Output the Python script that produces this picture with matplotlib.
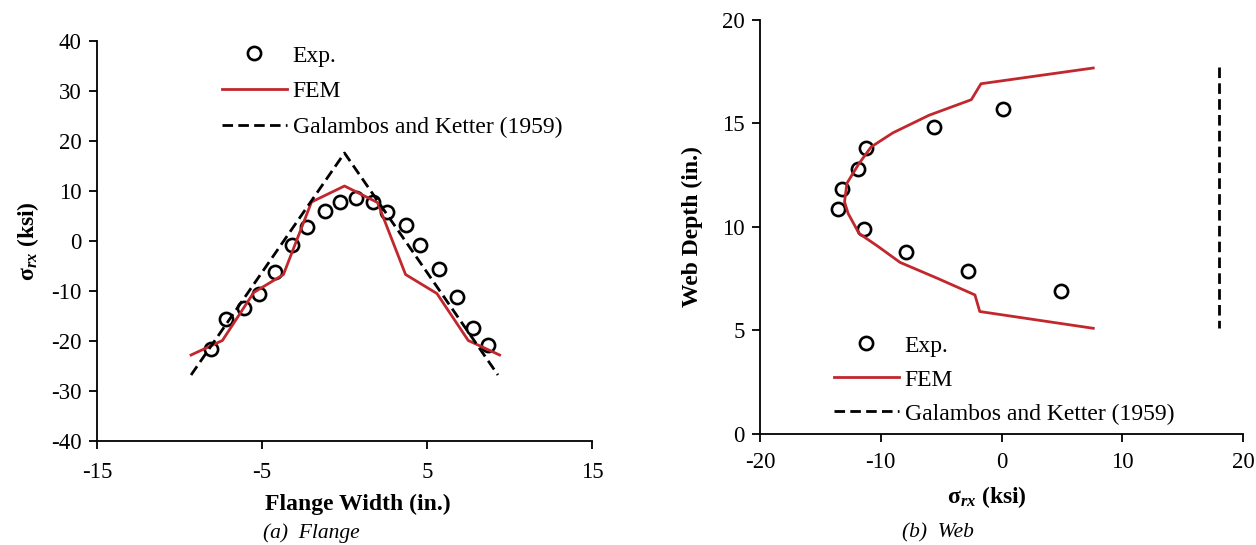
import matplotlib
matplotlib.use("Agg")
import matplotlib.pyplot as plt

plt.rcParams['font.family'] = ['Liberation Serif', 'DejaVu Serif']
plt.rcParams['mathtext.fontset'] = 'custom'
plt.rcParams['mathtext.rm'] = 'Liberation Serif'
plt.rcParams['mathtext.it'] = 'Liberation Serif:italic:bold'
plt.rcParams['mathtext.bf'] = 'Liberation Serif:bold'
plt.rcParams['axes.unicode_minus'] = False

# ---- Flange data ----
flange_exp_x = [-8.1, -7.2, -6.1, -5.2, -4.2, -3.2, -2.3, -1.2, -0.3, 0.7, 1.7, 2.6, 3.7, 4.6, 5.7, 6.8, 7.8, 8.7]
flange_exp_y = [-21.5, -15.5, -13.3, -10.5, -6.1, -0.7, 2.9, 6.0, 7.8, 8.7, 7.9, 5.9, 3.3, -0.7, -5.5, -11.1, -17.3, -20.8]
flange_fem_x = [-9.3, -7.4, -5.5, -3.7, -2.0, 0.0, 2.0, 3.7, 5.6, 7.5, 9.4]
flange_fem_y = [-22.8, -19.9, -10.3, -6.7, 7.8, 11.0, 7.7, -6.7, -10.5, -19.9, -22.8]
flange_gk_x = [-9.3, 0.0, 9.3]
flange_gk_y = [-26.8, 17.6, -26.8]

# ---- Web data ----
web_exp_x = [0.1, -5.6, -11.2, -11.9, -13.2, -13.5, -11.4, -7.9, -2.8, 4.9]
web_exp_y = [15.7, 14.8, 13.8, 12.8, 11.8, 10.85, 9.9, 8.8, 7.85, 6.9]
web_fem_x = [7.6, -1.7, -2.5, -6.0, -9.0, -10.8, -11.8, -12.8, -13.0, -12.7, -11.8, -10.2, -8.4, -5.3, -2.2, -1.8, 7.6]
web_fem_y = [17.66, 16.9, 16.13, 15.38, 14.53, 13.85, 13.05, 12.1, 11.2, 10.64, 9.68, 9.04, 8.28, 7.51, 6.71, 5.91, 5.1]
web_gk_x = [18.0, 18.0]
web_gk_y = [17.7, 5.1]

legend_labels = ["Exp.", "FEM", "Galambos and Ketter (1959)"]

RED = '#C1272D'
W, H = 1256, 545
fig = plt.figure(figsize=(W / 100, H / 100), dpi=100)

def ax_rect(x0, y0, x1, y1):
    return [x0 / W, 1 - y1 / H, (x1 - x0) / W, (y1 - y0) / H]

def fx(px):
    return px / W

def fy(py):
    return 1 - py / H

ax1 = fig.add_axes(ax_rect(97, 41, 592, 441))
ax2 = fig.add_axes(ax_rect(760, 19.5, 1243, 434))

FS = 17
LW = 2.0
dash = (0, (3.8, 1.9))
for ax in (ax1, ax2):
    for s in ('top', 'right'):
        ax.spines[s].set_visible(False)
    for s in ('left', 'bottom'):
        ax.spines[s].set_linewidth(1.3)
    ax.tick_params(direction='out', length=6, width=1.3, labelsize=16.5, colors='black', pad=5)

# Flange
h1, = ax1.plot(flange_exp_x, flange_exp_y, 'o', ms=9.5, mfc='none', mec='black', mew=1.9, label=legend_labels[0])
h2, = ax1.plot(flange_fem_x, flange_fem_y, '-', color=RED, lw=LW, label=legend_labels[1])
h3, = ax1.plot(flange_gk_x, flange_gk_y, color='black', lw=LW, linestyle=dash, label=legend_labels[2])
ax1.set_xlim(-15, 15)
ax1.set_ylim(-40, 40)
ax1.set_xticks([-15, -5, 5, 15])
ax1.set_yticks(range(-40, 41, 10))
ax1.tick_params(axis='x', pad=9)
ax1.legend(handles=[h1, h2, h3], loc='upper left', bbox_to_anchor=(fx(222), fy(45)),
           bbox_transform=fig.transFigure, frameon=False,
           fontsize=FS, handlelength=2.75, handletextpad=0.25, labelspacing=0.6, borderaxespad=0, borderpad=0)
ax1.set_ylabel(r'σ$_{\mathit{rx}}$ (ksi)', fontsize=FS, fontweight='bold', labelpad=7)

# Web
g1, = ax2.plot(web_exp_x, web_exp_y, 'o', ms=9.5, mfc='none', mec='black', mew=1.9, label=legend_labels[0])
g2, = ax2.plot(web_fem_x, web_fem_y, '-', color=RED, lw=LW, label=legend_labels[1])
g3, = ax2.plot(web_gk_x, web_gk_y, color='black', lw=LW, linestyle=dash, label=legend_labels[2])
ax2.set_xlim(-20, 20)
ax2.set_ylim(0, 20)
ax2.set_xticks(range(-20, 21, 10))
ax2.set_yticks(range(0, 21, 5))
ax2.tick_params(axis='x', pad=7)
ax2.legend(handles=[g1, g2, g3], loc='upper left', bbox_to_anchor=(fx(834), fy(335)),
           bbox_transform=fig.transFigure, frameon=False,
           fontsize=FS, handlelength=2.75, handletextpad=0.25, labelspacing=0.53, borderaxespad=0, borderpad=0)
ax2.set_ylabel('Web Depth (in.)', fontsize=FS, fontweight='bold', labelpad=14)

fig.text(fx(358), fy(504), 'Flange Width (in.)', ha='center', va='center', fontsize=FS, fontweight='bold')
fig.text(fx(987), fy(497), r'σ$_{\mathit{rx}}$ (ksi)', ha='center', va='center', fontsize=FS, fontweight='bold')
fig.text(fx(311), fy(533), '(a)  Flange', ha='center', va='center', fontsize=15.5, style='italic')
fig.text(fx(938), fy(533), '(b)  Web', ha='center', va='center', fontsize=15.5, style='italic')

fig.savefig('out.png', dpi=100)
